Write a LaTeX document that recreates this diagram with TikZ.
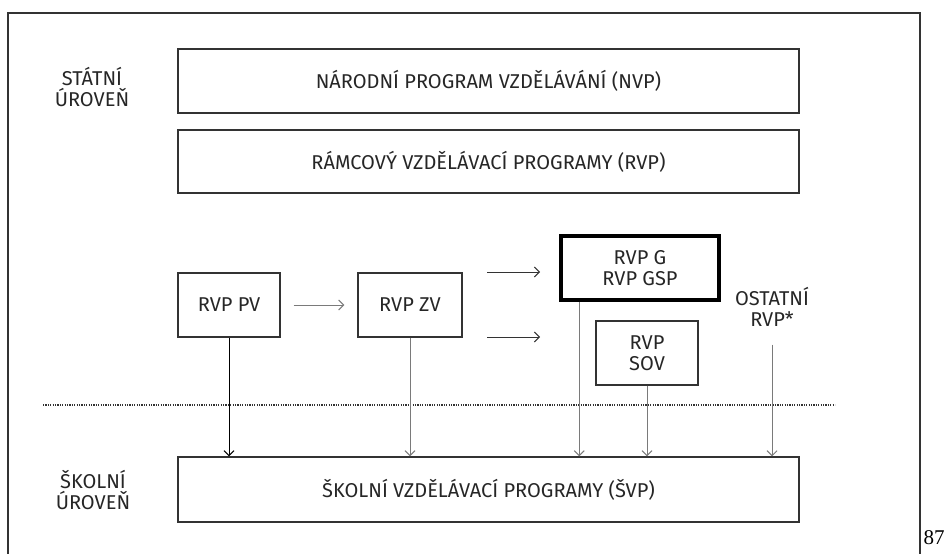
\documentclass[tikz,border=0pt]{standalone}
\usepackage{fontspec}
\setmainfont{Fira Sans}
\newfontfamily\pagefont{Liberation Serif}
\usetikzlibrary{calc,positioning,arrows.meta}

\definecolor{boxline}{HTML}{333333}
\definecolor{arrline}{HTML}{7A7A7A}
\definecolor{txt}{HTML}{262626}

\begin{document}
\begin{tikzpicture}[x=1pt,y=-1pt,
    font=\fontsize{20}{20.5}\selectfont,
    box/.style={draw=boxline,line width=1.2pt,text=txt,align=center,inner sep=0pt},
    lvl/.style={text=txt,align=center,inner sep=0pt},
    conn/.style={-{Straight Barb[length=5pt,width=10pt,line width=1pt]},draw=arrline,line width=1pt}]
            \useasboundingbox (0,0) rectangle (945,554);
            % frame
            \draw[boxline,line width=1.5pt] (8,554) -- (8,13) -- (920,13) -- (920,554);
            \node[font=\pagefont\fontsize{21}{21}\selectfont,inner sep=0pt] (page) at (934,538) {87};
            % state level
            \node[lvl] (stat) at (92,87) {STÁTNÍ\\ÚROVEŇ};
            \node[box,minimum width=621pt,minimum height=64pt] (nvp) at (488.5,81) {NÁRODNÍ PROGRAM VZDĚLÁVÁNÍ (NVP)};
            \node[box,minimum width=621pt,minimum height=63pt] (rvp) at (488.5,161.5) {RÁMCOVÝ VZDĚLÁVACÍ PROGRAMY (RVP)};
            % frameworks
            \node[box,minimum width=102pt,minimum height=64pt] (pv) at (229,305) {RVP PV};
            \node[box,minimum width=104pt,minimum height=64pt] (zv) at (410,305) {RVP ZV};
            \node[box,line width=3.5pt,draw=black,minimum width=158pt,minimum height=64pt] (g) at (640,268) {RVP G\\RVP GSP};
            \node[box,minimum width=102pt,minimum height=64pt] (sov) at (647,353) {RVP\\SOV};
            \node[lvl] (ost) at (772,307) {OSTATNÍ\\RVP*};
            \coordinate (pvout) at ($(pv.east)+(13,0)$);
            \coordinate (zvin) at ($(zv.west)+(-13,0)$);
            \draw[conn] (pvout) -- (zvin);
            \coordinate (gin) at (487,272);
            \coordinate (sovin) at (487,337);
            \draw[conn,draw=boxline] (gin) -- ++(53,0);
            \draw[conn,draw=boxline] (sovin) -- ++(53,0);
            % dotted border between levels
            \draw[boxline,line width=1.3pt,dash pattern=on 1.2pt off 1.2pt] (43,405) -- (835,405);
            % school level
            \node[lvl] (skol) at (93,490) {ŠKOLNÍ\\ÚROVEŇ};
            \node[box,minimum width=621pt,minimum height=65pt] (svp) at (488.5,489.5) {ŠKOLNÍ VZDĚLÁVACÍ PROGRAMY (ŠVP)};
            \draw[conn,draw=black] (pv.south) -- (pv.south |- svp.north);
            \foreach \n in {zv,sov}
              {
                \draw[conn] (\n.south) -- (\n.south |- svp.north);
              }
            \coordinate (gout) at ($(g.south west)+(20,0)$);
            \coordinate (ostout) at ($(ost.south)+(0,18)$);
            \draw[conn] (gout) -- (gout |- svp.north);
            \draw[conn] (ostout) -- (ostout |- svp.north);
          \end{tikzpicture}
\end{document}
